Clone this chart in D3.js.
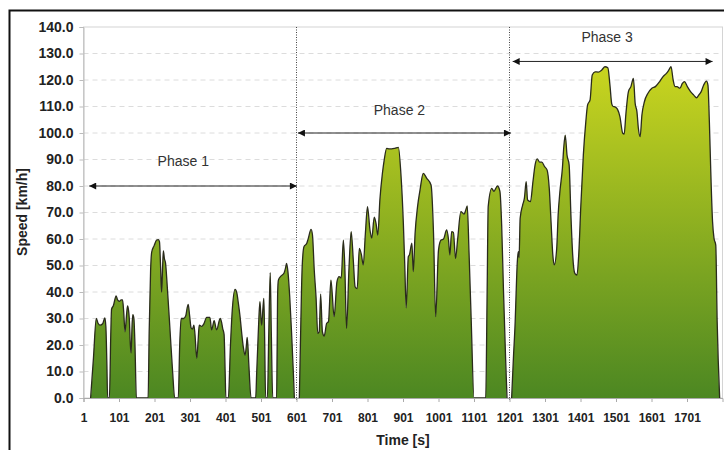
<!DOCTYPE html>
<html>
<head>
<meta charset="utf-8">
<script src="https://cdn.jsdelivr.net/npm/d3@7"></script>
<style>
  body { margin: 0; background: #fff; }
  svg { font-family: "Liberation Sans", Arial, sans-serif; }
  .tick-y text { font-size: 14px; font-weight: bold; fill: #222; }
  .tick-x text { font-size: 12px; font-weight: bold; fill: #222; }
  .axis-label { font-size: 14px; font-weight: bold; fill: #222; }
  .phase-label { font-size: 14px; fill: #333; }
</style>
</head>
<body>
<svg id="chart" width="724" height="450"></svg>
<script>
// DATA: [time s, speed km/h]
const phase1 = [
  [1,0],[21,0],[29,15],[37,30],[42,28.2],[48,27.5],[55,28],[61,30.2],[64,27],[67,12],[69,0],
  [74,0],[78,25],[80,33.5],[85,34.8],[93,38.5],[97,37],[102,36.5],[107,37],[111,37],[114,33],[118,25],
  [122,31],[125,34.8],[128,33],[130,30],[133,20],[135,17],[138,28],[140,31.5],[143,30],[146,20],[150,0],
  [183,0],[186,25],[190,48],[193,55],[200,57.5],[207,59.6],[212,59.8],[215,59],[218,50],[221,40],[224,50],
  [226,55.5],[229,52.5],[232,51],[237,42],[245,25],[252,10],[258,0],
  [268,0],[272,20],[276,30],[283,30],[289,31],[293,34],[296,35.3],[300,31],[304,26.5],[308,26],[312,27.5],
  [315,24],[320,15],[324,22],[327,27.5],[334,27],[340,28],[348,30.4],[357,30.4],[362,25.7],[369,29.2],
  [376,25.7],[386,30],[390,28.5],[393,26.3],[397,24],[400,10],[402,0],
  [409,0],[415,20],[420,33],[428,41],[433,39.6],[437,36],[442,30.7],[447,24],[451,19.4],[456,16.2],
  [460,20],[462,22.9],[464,20],[467,12],[473,0],
  [486,0],[489,10],[492,20],[495,30],[498,36.4],[501,30],[503,27.5],[506,33],[509,37.6],[511,25],[514,0],
  [519,0],[523,25],[527,47.3],[530,25],[534,0],
  [545,0],[548,40],[550,44.5],[557,46],[566,47.2],[570,49],[573,50.8],[577,47.5],[582,38],[587,25],
  [592,10],[595,0],[601,0]
];

const phase2 = [
  [601,0],[609,0],[612,20],[615,40],[617,49.5],[622,57.1],[630,58.4],[634,60.1],[642,63.6],[646,61.5],
  [651,48.3],[656,38.2],[661,24.4],[665,25],[669,39.2],[674,25],[679,23.4],[686,28.2],[691,28.8],
  [698,44.5],[707,30.7],[715,43.9],[721,45.8],[727,45.3],[733,59.6],[737,50],[742,26.3],[749,49.5],
  [755,62.8],[761,52],[766,42],[772,41.3],[778,56.5],[784,54],[789,50.2],[795,62],[801,72.2],[808,63.4],
  [813,60.3],[820,68.2],[825,65.9],[830,61.5],[836,75],[843,84.8],[848,89.8],[855,94.2],[862,94],
  [869,94],[878,94.2],[888,94.6],[895,84.8],[902,65.9],[906,50],[910,34],[916,53.3],[919,54],[926,58.4],
  [930,47.7],[935,62],[942,72.2],[949,78.5],[958,84.8],[968,82.9],[980,80.4],[987,62.1],[993,30.7],
  [1001,55.8],[1008,59.6],[1015,60],[1024,63.4],[1029,60],[1033,54],[1038,62.8],[1043,62.5],[1049,52.7],
  [1055,60],[1064,70.3],[1073,69.4],[1078,71],[1082,72.5],[1087,55],[1093,30],[1101,0],
  [1134,0],[1138,40],[1141,72.2],[1151,79.1],[1157,78],[1162,79],[1167,80],[1174,78],[1179,65],
  [1184,40.8],[1190,15],[1194,0],[1201,0]
];

const phase3 = [
  [1201,0],[1207,0],[1212,15],[1217,28.8],[1221,45],[1223,51.4],[1226,55.2],[1228,53],[1231,67.8],
  [1238,72.8],[1243,75.4],[1248,81.6],[1252,74.7],[1260,74.1],[1267,81.6],[1273,87.9],[1279,90.2],
  [1286,89],[1292,89],[1300,87.3],[1307,86],[1313,79.1],[1318,66.5],[1323,54],[1327,50.2],[1334,56.5],
  [1338,69],[1343,77.9],[1350,86.7],[1354,94.8],[1358,99.2],[1363,91.7],[1369,87.9],[1374,69],[1379,54],
  [1385,47],[1391,46.4],[1396,54],[1402,72.8],[1409,91.7],[1416,104.3],[1421,110.6],[1428,112.5],
  [1434,121.9],[1442,123.1],[1451,123],[1461,123.8],[1470,125],[1478,124.6],[1484,118],[1489,111],
  [1493,110],[1498,109.9],[1505,109],[1512,106.2],[1520,99.9],[1524,99.6],[1529,107.4],[1536,115.6],
  [1543,117.5],[1550,120.6],[1555,111.2],[1560,108],[1564,101.8],[1569,98.6],[1574,106.8],[1581,111.8],
  [1591,115],[1602,116.9],[1612,117.5],[1624,119.4],[1633,121.2],[1643,122.5],[1650,123.8],[1656,125],
  [1662,120],[1667,117.5],[1673,117.5],[1681,116.9],[1688,118.7],[1694,119.4],[1702,117.5],[1711,115.6],
  [1720,114.3],[1728,113.3],[1734,114.3],[1741,115.6],[1748,118.1],[1756,119.6],[1760,118.1],[1764,104.3],
  [1768,85.4],[1773,66.5],[1777,60.3],[1782,57.7],[1786,28.8],[1793,0]
];

const yTicks = d3.range(0, 141, 10);
const xTicks = d3.range(1, 1702, 100);
const phaseBounds = [601, 1201];

// phase annotations: name, arrow speed, arrow start/end time, label position
const phaseNames = ["Phase 1", "Phase 2", "Phase 3"];
const phaseArrowY = [80, 100, 127];
const phaseArrowX = [[17, 602], [605, 1205], [1210, 1773]];
const phaseLabelX = [282, 891, 1476];
const phaseLabelY = [87.5, 106.8, 134.2];

// SETUP
const margin = { top: 27, right: 1.5, bottom: 52, left: 83.5 },
    width = 724 - margin.left - margin.right,
    height = 450 - margin.top - margin.bottom;

const svg = d3.select("#chart");

// outer frame
svg.append("rect")
    .attr("x", 9.5).attr("y", 10.5)
    .attr("width", 760).attr("height", 480)
    .attr("fill", "none")
    .attr("stroke", "#111")
    .attr("stroke-width", 2);

const g = svg.append("g")
    .attr("transform", `translate(${margin.left},${margin.top})`);

// SCALES
const x = d3.scaleLinear().domain([1, 1801]).range([0, width]);
const y = d3.scaleLinear().domain([0, 140]).range([height, 0]);

// gradient fill
const grad = svg.append("defs").append("linearGradient")
    .attr("id", "speedFill")
    .attr("gradientUnits", "userSpaceOnUse")
    .attr("x1", 0).attr("x2", 0)
    .attr("y1", y(140)).attr("y2", y(0));
grad.append("stop").attr("offset", "0%").attr("stop-color", "#d8de1f");
grad.append("stop").attr("offset", "100%").attr("stop-color", "#4c8722");

// plot area border
g.append("rect")
    .attr("x", 0).attr("y", 0)
    .attr("width", width).attr("height", height)
    .attr("fill", "none")
    .attr("stroke", "#d4d4d4");

// gridlines
g.selectAll(".grid")
    .data(yTicks.filter(d => d > 0 && d < 140))
    .enter()
    .append("line")
    .attr("x1", 0).attr("x2", width)
    .attr("y1", d => y(d)).attr("y2", d => y(d))
    .attr("stroke", "#dcdcdc")
    .attr("stroke-dasharray", "5,4");

// AREA
const data = phase1.concat(phase2.slice(1), phase3.slice(1));

const area = d3.area()
    .x(d => x(d[0]))
    .y0(y(0))
    .y1(d => y(d[1]))
    .curve(d3.curveMonotoneX);

g.append("path")
    .datum(data)
    .attr("d", area)
    .attr("fill", "url(#speedFill)");

const line = d3.line()
    .defined((d, i, arr) => d[1] > 0 || (arr[i - 1] && arr[i - 1][1] > 0) || (arr[i + 1] && arr[i + 1][1] > 0))
    .x(d => x(d[0]))
    .y(d => y(d[1]))
    .curve(d3.curveMonotoneX);

g.append("path")
    .datum(data)
    .attr("d", line)
    .attr("fill", "none")
    .attr("stroke", "#2a2b1c")
    .attr("stroke-width", 1.3);

// AXES
const yAxis = g.append("g")
    .attr("class", "tick-y")
    .call(d3.axisLeft(y).tickValues(yTicks).tickFormat(d3.format(".1f")).tickSize(4).tickPadding(6));
yAxis.select(".domain").attr("stroke", "#bbb");
yAxis.selectAll(".tick line").attr("stroke", "#bbb");

const xAxis = g.append("g")
    .attr("class", "tick-x")
    .attr("transform", `translate(0,${height})`)
    .call(d3.axisBottom(x).tickValues(xTicks).tickFormat(d3.format("d")).tickSize(4).tickPadding(11));
xAxis.select(".domain").attr("stroke", "#aaa");
xAxis.selectAll(".tick line").attr("stroke", "#aaa");

// phase separators
g.selectAll(".sep")
    .data(phaseBounds)
    .enter()
    .append("line")
    .attr("x1", d => x(d)).attr("x2", d => x(d))
    .attr("y1", 0).attr("y2", height + 2)
    .attr("stroke", "#444")
    .attr("stroke-width", 1)
    .attr("stroke-dasharray", "1,1.5");

// arrows
svg.select("defs").append("marker")
    .attr("id", "arrowHead")
    .attr("viewBox", "0 0 10 10")
    .attr("refX", 10).attr("refY", 5)
    .attr("markerWidth", 9).attr("markerHeight", 7)
    .attr("markerUnits", "userSpaceOnUse")
    .attr("orient", "auto-start-reverse")
    .append("path")
    .attr("d", "M0,0L10,5L0,10Z")
    .attr("fill", "#111");

g.selectAll(".phase-arrow")
    .data(phaseNames)
    .enter()
    .append("line")
    .attr("x1", (d, i) => x(phaseArrowX[i][0]))
    .attr("x2", (d, i) => x(phaseArrowX[i][1]))
    .attr("y1", (d, i) => y(phaseArrowY[i]))
    .attr("y2", (d, i) => y(phaseArrowY[i]))
    .attr("stroke", "#222")
    .attr("stroke-width", 1)
    .attr("marker-start", "url(#arrowHead)")
    .attr("marker-end", "url(#arrowHead)");

g.selectAll(".phase-label")
    .data(phaseNames)
    .enter()
    .append("text")
    .attr("class", "phase-label")
    .attr("text-anchor", "middle")
    .attr("x", (d, i) => x(phaseLabelX[i]))
    .attr("y", (d, i) => y(phaseLabelY[i]))
    .text(d => d);

// LABELS
svg.append("text")
    .attr("class", "axis-label")
    .attr("text-anchor", "middle")
    .attr("x", margin.left + width / 2)
    .attr("y", 445)
    .text("Time [s]");

svg.append("text")
    .attr("class", "axis-label")
    .attr("text-anchor", "middle")
    .attr("transform", "translate(27,212) rotate(-90)")
    .text("Speed [km/h]");
</script>
</body>
</html>
